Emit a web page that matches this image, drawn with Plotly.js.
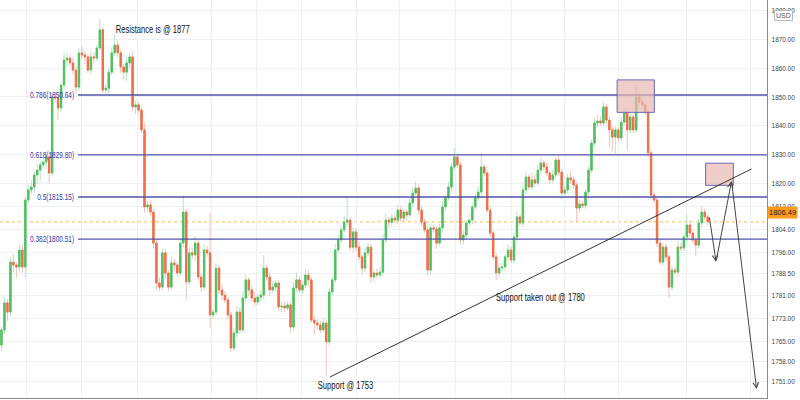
<!DOCTYPE html>
<html><head><meta charset="utf-8">
<script src="https://cdn.plot.ly/plotly-3.0.1.min.js"></script>
<style>html,body{margin:0;padding:0;background:#fff}#chart{width:800px;height:400px}</style>
</head><body><div id="chart"></div>
<script>
// ---- data (hourly candles, price in USD) ----
const firstOpen = 1763.6;
const closes = [
1768.9,1778.3,1775.1,1792.5,1791.5,1790.8,1796.7,1790.8,1814.1,1817.6,
1818.6,1822.8,1824.5,1826.3,1827.3,1829.1,1823.5,1849.9,1849.6,1846.1,
1854.1,1862.8,1863.5,1861.8,1859.3,1853.4,1865.3,1864.6,1863.9,1859.3,
1863.9,1863.5,1867.0,1873.3,1852.4,1853.0,1858.6,1865.3,1868.0,1865.3,
1860.4,1858.6,1861.8,1863.9,1846.5,1847.2,1845.4,1838.5,1811.7,1812.4,
1809.9,1799.1,1785.2,1783.8,1795.7,1788.7,1783.8,1792.2,1791.5,1788.7,
1799.1,1809.9,1785.6,1795.7,1795.0,1799.1,1787.3,1783.8,1796.7,1795.7,
1774.1,1775.1,1790.4,1782.8,1781.0,1779.3,1774.1,1762.6,1767.8,1775.1,
1768.9,1780.0,1786.3,1782.8,1780.0,1778.6,1780.3,1781.0,1790.4,1787.3,
1782.8,1783.8,1785.2,1776.9,1777.2,1776.5,1777.6,1769.9,1783.5,1786.3,
1782.8,1784.5,1788.0,1786.3,1772.3,1771.3,1770.6,1768.9,1771.3,1764.7,
1782.1,1786.3,1796.7,1800.2,1803.7,1806.4,1807.1,1797.7,1803.0,1797.7,
1794.3,1790.4,1795.7,1797.7,1787.3,1788.7,1788.0,1789.0,1800.2,1807.1,
1806.4,1807.8,1807.1,1810.6,1807.8,1809.9,1808.9,1813.1,1816.5,1818.3,
1810.6,1806.4,1803.7,1789.7,1804.4,1804.0,1799.1,1804.4,1811.7,1814.8,
1818.6,1825.6,1829.1,1826.3,1800.2,1801.9,1806.1,1807.1,1811.7,1814.8,
1816.9,1825.6,1823.5,1810.6,1802.6,1794.3,1788.7,1790.4,1790.8,1794.3,
1796.7,1793.2,1801.2,1808.2,1806.1,1817.6,1822.1,1818.6,1821.1,1820.0,
1824.5,1827.0,1825.6,1823.5,1821.1,1822.8,1828.0,1823.8,1816.5,1817.6,
1821.8,1821.1,1819.3,1811.3,1812.7,1812.2,1816.9,1824.5,1833.9,1840.9,
1841.6,1840.9,1846.5,1841.9,1838.5,1836.0,1838.5,1835.7,1841.2,1844.4,
1838.5,1843.0,1838.5,1849.9,1848.2,1847.2,1844.7,1830.5,1815.8,1814.1,
1799.1,1792.5,1797.7,1794.3,1783.8,1789.7,1789.0,1797.7,1797.4,1801.2,
1805.4,1802.6,1800.2,1798.4,1806.1,1809.9,1808.2,1806.49];
const upWick = [
1.5,2.0,1.2,1.8,2.5,1.0,2.2,1.5,1.0,1.8,2.5,1.2,2.0,1.5,2.8,1.0,1.5,1.2,2.0,1.5,
1.0,2.5,1.8,1.2,2.0,1.5,1.8,2.2,1.5,1.0,2.0,1.5,1.2,3.7,1.0,1.5,1.2,2.0,3.5,1.5,
1.2,1.0,2.0,1.5,2.2,1.5,1.0,1.2,2.5,1.5,1.8,1.0,1.2,2.0,1.5,1.8,1.0,2.2,1.5,1.2,
1.5,5.9,1.2,2.0,1.5,2.5,1.0,1.2,2.0,1.5,13.9,1.0,1.8,1.2,2.0,1.5,1.0,1.2,1.8,2.0,
1.5,2.2,1.8,1.0,1.5,2.0,1.2,1.5,4.5,1.0,1.5,2.0,1.2,1.0,1.5,1.8,1.2,1.0,2.0,2.5,
1.5,1.2,2.0,1.5,1.0,1.8,1.2,1.5,2.0,1.0,1.5,1.2,2.0,1.8,1.5,2.2,7.7,1.0,1.5,1.2,
1.8,1.0,2.0,1.5,1.2,1.0,1.5,1.8,2.0,2.5,1.2,1.5,1.0,1.8,1.5,1.2,1.0,1.5,2.0,2.2,
1.0,1.5,1.2,1.8,1.5,1.2,1.0,1.5,1.8,1.2,2.0,1.5,3.0,1.0,1.2,1.5,1.0,1.8,1.2,1.5,
2.0,5.0,1.0,1.2,1.5,1.0,1.2,1.8,1.5,1.0,2.0,1.2,1.5,1.8,1.0,1.5,2.0,1.2,2.5,1.8,
1.5,2.0,1.2,1.5,1.0,1.8,1.0,1.5,1.2,1.0,1.5,2.0,1.2,1.0,1.5,1.2,1.0,1.5,1.2,1.8,
2.0,1.5,1.7,1.2,1.0,1.5,1.2,1.0,1.8,2.0,1.2,1.5,1.0,4.2,1.5,1.2,1.0,1.5,1.2,1.0,
1.2,1.0,1.5,1.2,1.0,1.5,1.2,1.8,1.5,1.2,3.5,1.5,1.2,1.0,1.5,2.0,1.2,1.0];
const dnWick = [
2.0,1.5,3.0,1.2,2.5,4.0,1.5,2.0,3.5,1.2,1.5,2.0,3.0,4.0,1.5,2.5,3.5,1.0,1.5,4.0,
1.2,1.5,2.0,1.0,1.5,2.0,1.2,1.5,2.5,1.0,1.5,2.0,1.2,1.0,1.1,1.5,2.0,1.2,1.0,1.5,
2.0,2.5,3.0,2.0,1.5,2.5,1.2,1.0,2.0,1.5,1.2,1.8,2.5,1.5,1.0,2.0,1.5,1.2,2.0,1.5,
1.2,1.5,6.3,1.0,1.5,2.0,1.2,1.8,1.0,1.5,4.5,1.2,1.0,1.5,2.0,1.2,1.5,1.4,1.0,1.5,
1.2,1.0,1.5,2.0,1.2,1.5,1.0,1.8,1.2,1.5,2.0,1.0,1.5,1.2,2.0,1.5,1.0,2.0,1.2,1.5,
1.0,1.5,1.2,2.0,1.0,4.0,1.5,1.2,1.0,11.7,1.5,1.2,1.0,1.5,1.2,1.0,1.5,1.2,2.0,1.5,
1.2,2.0,1.5,1.0,2.0,1.5,1.2,1.0,1.5,1.2,2.0,1.5,1.0,1.2,1.5,1.0,2.0,1.2,1.5,1.0,
1.5,1.2,1.0,2.0,1.5,1.2,2.0,1.0,1.5,1.2,1.0,1.5,1.2,1.0,1.8,1.5,1.2,1.0,1.5,1.2,
1.0,1.5,1.2,1.0,1.5,1.2,2.5,1.5,1.0,1.2,1.5,1.0,1.2,1.5,1.0,1.2,1.5,1.0,1.2,1.5,
1.0,1.5,1.2,1.0,1.5,1.2,1.0,1.5,2.0,1.2,1.0,1.5,1.2,4.9,1.5,1.0,1.2,1.5,1.0,1.2,
1.5,1.0,1.2,1.5,6.0,5.0,6.0,1.5,1.2,1.0,7.0,1.5,1.2,1.0,1.5,1.2,1.0,1.5,1.2,1.0,
1.5,1.0,1.2,1.5,3.8,1.2,1.0,1.5,1.2,1.0,1.5,1.2,1.0,3.8,1.2,1.5,1.0,1.2];

const fibRatios = ['0.786','0.618','0.5','0.382'];
const fibPrices = [1850.64, 1829.80, 1815.15, 1800.51];
const fibStart = 25.7;   // candle index where the retracement lines begin
const yTickVals = [1880,1870,1860,1850,1840,1830,1820,1812,1804,1796,1788.5,1781,1773,1765,1758,1751];
const yTickText = ['1880.00','1870.00','1860.00','1850.00','1840.00','1830.00','1820.00','1812.00','1804.00','1796.00','1788.50','1781.00','1773.00','1765.00','1758.00','1751.00'];
const gridX = [8.46,26.9,45.6,70.5,85.6,100.7,119.2,133.7,152.5,171.2,189.1,207.2,230.0,251.2];
const lastPrice = 1806.49;
const trendX = [110.2, 251.7];
const trendY = [1752.5, 1824.9];
const zoneX = [[206.6,219.1],[236.3,245.6]];
const zoneY = [[1844.6,1855.9],[1819.2,1826.9]];
const pathX = [237.5, 239.8, 245.0, 253.4];
const pathY = [1808.5, 1792.6, 1820.7, 1748.3];
const noteText = ['Resistance is @ 1877','Support @ 1753','Support taken out @ 1780'];
const noteX = [50.7, 115.6, 181.0];
const noteY = [1873.6, 1749.7, 1780.3];
const xRange = [-0.5, 256.9];
const yRange = [1745.2, 1883.7];

// ---- derived OHLC ----
const idx = closes.map((_, i) => i);
const opens = closes.map((c, i) => i === 0 ? firstOpen : closes[i-1]);
const bodyHi = closes.map((c, i) => Math.max(c, opens[i]));
const bodyLo = closes.map((c, i) => Math.min(c, opens[i]));
const highs = bodyHi.map((v, i) => v + upWick[i]);
const lows = bodyLo.map((v, i) => v - dnWick[i]);

const GREEN = '#4fc060', RED = '#ef6f4b';
const FONT = 'Liberation Sans, Arial, sans-serif';

const wicks = {
  type: 'candlestick', x: idx, open: opens, high: highs, low: lows, close: closes,
  increasing: {line: {color: '#bde3c1', width: 1}, fillcolor: '#bde3c1'},
  decreasing: {line: {color: '#f2c3b7', width: 1}, fillcolor: '#f2c3b7'},
  whiskerwidth: 0, hoverinfo: 'skip', showlegend: false
};
const bodies = {
  type: 'candlestick', x: idx, open: opens, high: bodyHi, low: bodyLo, close: closes,
  increasing: {line: {color: GREEN, width: 1}, fillcolor: GREEN},
  decreasing: {line: {color: RED, width: 1}, fillcolor: RED},
  whiskerwidth: 0, hoverinfo: 'skip', showlegend: false
};

const FIB = '#5252ad';
const fibTraces = fibPrices.map(p => ({
  type: 'scatter', mode: 'lines', x: [fibStart, xRange[1]], y: [p, p],
  line: {color: FIB, width: 1.3}, hoverinfo: 'skip', showlegend: false
}));

const shapes = [];
const annotations = [];
const fibAnn = [], noteAnn = [];
shapes.push({type:'line', xref:'paper', x0:0, x1:1, yref:'y', y0:lastPrice, y1:lastPrice,
  line:{color:'rgba(245,166,35,0.75)', width:1, dash:'dot'}, layer:'below'});
fibPrices.forEach((p, i) => {
  fibAnn.push(annotations.length);
  annotations.push({xref:'paper', x:0.0995, xanchor:'right', align:'right', yref:'y', y:p, yanchor:'middle',
    text: fibRatios[i] + '(' + p.toFixed(2) + ')', showarrow:false,
    font:{family:FONT, size:9, color:'#3535aa'}});
});
zoneX.forEach((zx, i) => {
  shapes.push({type:'rect', xref:'x', yref:'y', x0:zx[0], x1:zx[1], y0:zoneY[i][0], y1:zoneY[i][1],
    fillcolor:'rgba(232,185,178,0.7)', line:{color:'#6a6ab8', width:1}, layer:'above'});
});
shapes.push({type:'line', xref:'x', yref:'y', x0:trendX[0], y0:trendY[0], x1:trendX[1], y1:trendY[1],
  line:{color:'#333', width:1}});
for (let i = 1; i < pathX.length; i++) {
  annotations.push({xref:'x', yref:'y', axref:'x', ayref:'y', x:pathX[i], y:pathY[i],
    ax:pathX[i-1], ay:pathY[i-1], text:'', showarrow:true, arrowhead:5, arrowsize:1.1,
    arrowwidth:1, arrowcolor:'#444', standoff:0, startstandoff:0});
}
noteText.forEach((t, i) => {
  noteAnn.push(annotations.length);
  annotations.push({xref:'x', yref:'y', x:noteX[i], y:noteY[i], text:t, showarrow:false,
    font:{family:FONT, size:10, color:'#111'}});
});
annotations.push({xref:'paper', x:1, xanchor:'left', xshift:0, yref:'y', y:lastPrice, yshift:9,
  text:lastPrice.toFixed(2), showarrow:false, bgcolor:'#ff9a1f', borderpad:1,
  font:{family:FONT, size:7.5, color:'#222'}});
annotations.push({xref:'paper', x:1, xanchor:'left', xshift:7, yref:'paper', y:0.975,
  text:'USD', showarrow:false, bgcolor:'#fff', bordercolor:'#bbb', borderwidth:1, borderpad:1,
  font:{family:FONT, size:7, color:'#555'}});

const layout = {
  width: 800, height: 400,
  margin: {l:0, r:33, t:0, b:2},
  paper_bgcolor: '#fff', plot_bgcolor: '#fff',
  showlegend: false,
  boxgap: 0.35,
  xaxis: {type:'linear', range:xRange, rangeslider:{visible:false},
    tickvals: gridX, showticklabels:false, ticks:'', showgrid:true, gridcolor:'#eceff4',
    zeroline:false, showline:true, linecolor:'#8a8a8a', linewidth:1, fixedrange:true},
  yaxis: {side:'right', range:yRange, tickvals:yTickVals, ticktext:yTickText,
    showgrid:true, gridcolor:'#eceff4', zeroline:false, showline:true, linecolor:'#8a8a8a',
    linewidth:1, ticks:'', ticklabelstandoff:2,
    tickfont:{family:FONT, size:8, color:'#444'}, fixedrange:true},
  shapes: shapes,
  annotations: annotations
};
Plotly.newPlot('chart', [wicks, bodies].concat(fibTraces), layout, {staticPlot:true, displayModeBar:false}).then(gd => {
  // condensed lettering like the original chart
  const squeeze = (t, f) => {
    const w = t.getComputedTextLength();
    if (w > 0) { t.setAttribute('textLength', (w * f).toFixed(1)); t.setAttribute('lengthAdjust', 'spacingAndGlyphs'); }
  };
  gd.querySelectorAll('.ytick text').forEach(t => squeeze(t, 0.8));
  gd.querySelectorAll('.annotation').forEach(g => {
    const k = +g.getAttribute('data-index');
    const t = g.querySelector('text.annotation-text');
    if (!t) return;
    if (fibAnn.includes(k)) squeeze(t, 0.72);
    if (noteAnn.includes(k)) squeeze(t, 0.76);
  });
});
</script></body></html>
